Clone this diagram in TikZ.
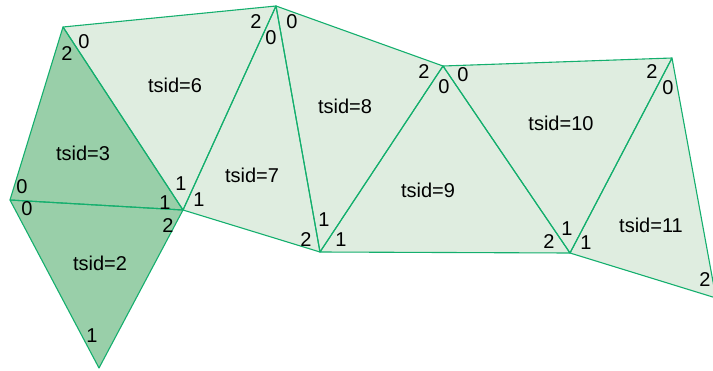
\documentclass[tikz,border=0pt]{standalone}
\usepackage{fontspec}
\setmainfont{Liberation Sans}
\definecolor{edgegreen}{RGB}{20,175,110}
\definecolor{darkfill}{RGB}{153,207,169}
\definecolor{lightfill}{RGB}{223,237,224}
\tikzset{
  tri/.style={draw=edgegreen, line width=1.1pt, line join=round},
  tsid/.style={font=\fontsize{20}{22}\selectfont, inner sep=0pt},
  vid/.style={font=\fontsize{20}{22}\selectfont, inner sep=0pt},
}
\begin{document}
\begin{tikzpicture}[x=1pt,y=-1pt]
\useasboundingbox (0,0) rectangle (713,370);
\clip (0,0) rectangle (713,370);

\coordinate (A) at (63,27);
\coordinate (B) at (10,200);
\coordinate (C) at (183,210);
\coordinate (D) at (99,368);
\coordinate (E) at (276,6);
\coordinate (F) at (320,252);
\coordinate (G) at (443,66);
\coordinate (H) at (570,253);
\coordinate (I) at (672,58);
\coordinate (J) at (716,298);

\fill[lightfill] (A) -- (E) -- (G) -- (I) -- (J) -- (H) -- (F) -- (C) -- cycle;
\fill[darkfill] (A) -- (B) -- (D) -- (C) -- cycle;

\draw[tri] (B) -- (D) -- (C) -- cycle;
\draw[tri] (B) -- (C) -- (A) -- cycle;
\draw[tri] (A) -- (C) -- (E) -- cycle;
\draw[tri] (E) -- (C) -- (F) -- cycle;
\draw[tri] (E) -- (F) -- (G) -- cycle;
\draw[tri] (G) -- (F) -- (H) -- cycle;
\draw[tri] (G) -- (H) -- (I) -- cycle;
\draw[tri] (I) -- (H) -- (J) -- cycle;

\node[tsid] (t2) at (100,263) {tsid=2};
\node[tsid] (t3) at (83,153) {tsid=3};
\node[tsid] (t6) at (175,85) {tsid=6};
\node[tsid] (t7) at (252,175) {tsid=7};
\node[tsid] (t8) at (345,106) {tsid=8};
\node[tsid] (t9) at (428,190) {tsid=9};
\node[tsid] (t10) at (561,123) {tsid=10};
\node[tsid] (t11) at (651,225) {tsid=11};

% tsid=2
\node[vid] (v2a) at (27,209) {0};
\node[vid] (v2b) at (92,336) {1};
\node[vid] (v2c) at (168,226) {2};
% tsid=3
\node[vid] (v3a) at (22,187) {0};
\node[vid] (v3b) at (165,203) {1};
\node[vid] (v3c) at (67,54) {2};
% tsid=6
\node[vid] (v6a) at (84,42) {0};
\node[vid] (v6b) at (181,184) {1};
\node[vid] (v6c) at (256,22) {2};
% tsid=7
\node[vid] (v7a) at (271,38) {0};
\node[vid] (v7b) at (199,200) {1};
\node[vid] (v7c) at (306,240) {2};
% tsid=8
\node[vid] (v8a) at (292,22) {0};
\node[vid] (v8b) at (324,220) {1};
\node[vid] (v8c) at (424,72) {2};
% tsid=9
\node[vid] (v9a) at (444,87) {0};
\node[vid] (v9b) at (341,240) {1};
\node[vid] (v9c) at (549,242) {2};
% tsid=10
\node[vid] (v10a) at (463,75) {0};
\node[vid] (v10b) at (567,229) {1};
\node[vid] (v10c) at (652,72) {2};
% tsid=11
\node[vid] (v11a) at (668,88) {0};
\node[vid] (v11b) at (586,243) {1};
\node[vid] (v11c) at (705,280) {2};
\end{tikzpicture}
\end{document}
